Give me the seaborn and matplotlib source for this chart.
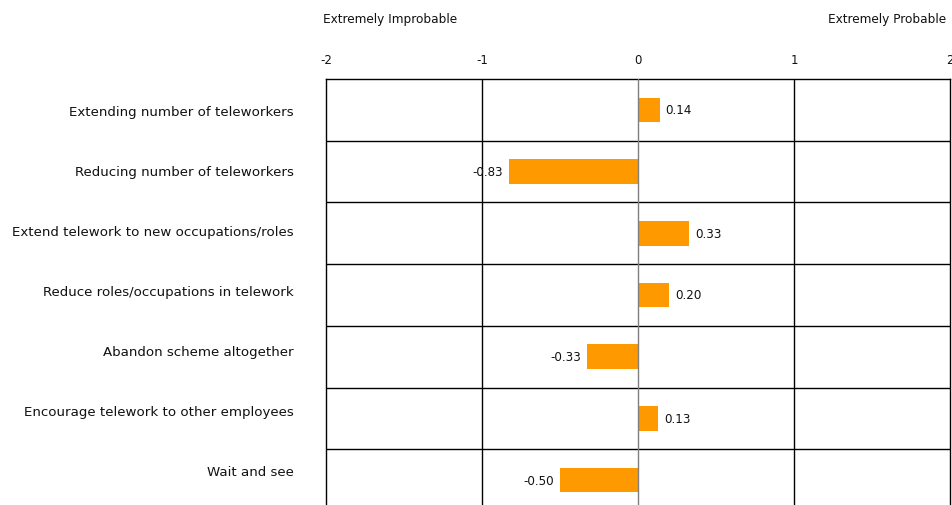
import matplotlib
matplotlib.use("Agg")
import matplotlib.pyplot as plt
import seaborn as sns
import pandas as pd

# Survey items and their mean likelihood scores (-2 .. +2)
actions = [
    "Extending number of teleworkers",
    "Reducing number of teleworkers",
    "Extend telework to new occupations/roles",
    "Reduce roles/occupations in telework",
    "Abandon scheme altogether",
    "Encourage telework to other employees",
    "Wait and see",
]
scores = [0.14, -0.83, 0.33, 0.20, -0.33, 0.13, -0.50]
x_ticks = [-2, -1, 0, 1, 2]
scale_left = "Extremely Improbable"
scale_right = "Extremely Probable"

sns.set_theme(style="white")
plt.rcParams["font.family"] = ["DejaVu Sans"]

W, H = 952, 506
TOP = 80          # pixel row of the plot frame's top edge
ROW = 61.7        # pixel height of one category band
fig = plt.figure(figsize=(W / 100, H / 100), dpi=100)
ax = fig.add_axes([326 / W, 0, (950 - 326) / W, (H - TOP) / H])

df = pd.DataFrame({"action": actions, "score": scores})
sns.barplot(data=df, x="score", y="action", orient="h", color="#FF9900",
            saturation=1, width=0.4, linewidth=0, ax=ax, zorder=2)

ax.set_xlim(x_ticks[0], x_ticks[-1])
ax.set_ylim(len(actions) - 0.5 - (TOP + len(actions) * ROW - H) / ROW, -0.5)
ax.set_xticks(x_ticks)
ax.set_xticklabels([str(t) for t in x_ticks])
ax.xaxis.tick_top()

# Category labels sit on a slightly tighter 60 px pitch than the bands
label_pos = [(111 + 60 * i - TOP) / ROW - 0.5 for i in range(len(actions))]
ax.set_yticks(label_pos)
ax.set_yticklabels(actions)

ax.tick_params(axis="x", length=0, pad=9, labelsize=8.5, colors="#111111")
ax.tick_params(axis="y", length=0, pad=23, labelsize=9.6, colors="#111111")
ax.set_xlabel("")
ax.set_ylabel("")

# Grid: black lines between categories and at -1/+1, grey zero line
for i in range(len(actions) - 1):
    ax.axhline(i + 0.5, color="black", lw=1, zorder=1)
for t in (-1, 1):
    ax.axvline(t, color="black", lw=1, zorder=1)
ax.axvline(0, color="#7f7f7f", lw=1, zorder=3)

for side in ("top", "left", "right"):
    ax.spines[side].set_visible(True)
    ax.spines[side].set_color("black")
    ax.spines[side].set_linewidth(1)
ax.spines["bottom"].set_visible(False)

# Value labels beside each bar
for i, v in enumerate(scores):
    off = 4 if v >= 0 else -4
    ax.annotate(f"{v:.2f}", xy=(v, i), xytext=(off, 0), textcoords="offset points",
                ha="left" if v >= 0 else "right", va="center", fontsize=8.6,
                color="#111111", zorder=4)

fig.text(323 / W, 1 - 19 / H, scale_left, ha="left", va="center", fontsize=8.7, color="#111111")
fig.text(946 / W, 1 - 19 / H, scale_right, ha="right", va="center", fontsize=8.7, color="#111111")

fig.savefig("out.png", dpi=100)
